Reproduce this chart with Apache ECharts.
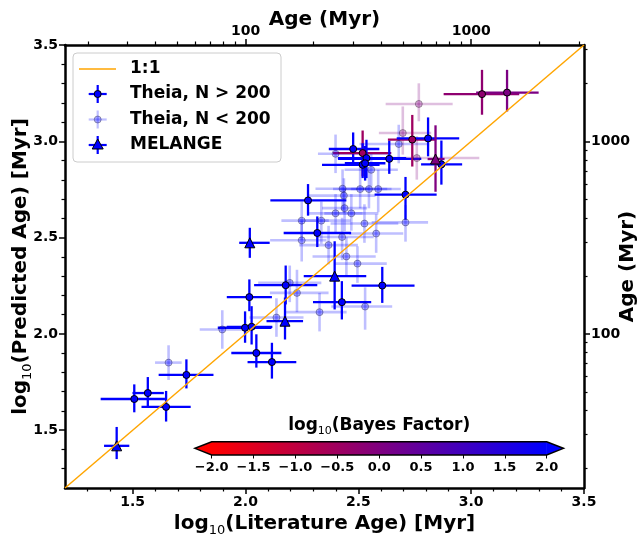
<!DOCTYPE html>
<html><head><meta charset="utf-8">
<script src="https://cdn.jsdelivr.net/npm/echarts@6/dist/echarts.min.js"></script>
<style>html,body{margin:0;padding:0;background:#fff}#c{width:641px;height:536px}</style>
</head><body><div id="c"></div>
<script>
// ---------- axis ticks ----------
const axisMin = 1.2, axisMax = 3.5;
const majorTicks = [1.5, 2.0, 2.5, 3.0, 3.5];
const minorTicks = [1.3,1.4,1.6,1.7,1.8,1.9,2.1,2.2,2.3,2.4,2.6,2.7,2.8,2.9,3.1,3.2,3.3,3.4];
const ageMajorTicks = [100, 1000];
const ageMinorTicks = [20,30,40,50,60,70,80,90,200,300,400,500,600,700,800,900,2000,3000];
const cbarMin = -2, cbarMax = 2;
const cbarTicks = [-2,-1.5,-1,-0.5,0,0.5,1,1.5,2];
const cmapStops = [[255,0,0],[0,0,255]];
const oneToOne = [1.2, 3.5];
const legendLabels = ['1:1', 'Theia, N > 200', 'Theia, N < 200', 'MELANGE'];

// ---------- Theia, N > 200 ----------
const theiaLit = [1.507,1.567,1.648,1.738,2.048,2.117,1.998,2.027,2.017,2.178,2.606,2.427,2.318,2.277,2.477,2.519,2.536,2.519,2.530,2.637,2.739,2.809,2.868,2.709,3.048,3.159];
const theiaLitErr = [[0.149,0.136],[0.068,0.071],[0.109,0.109],[0.123,0.120],[0.111,0.111],[0.108,0.108],[0.121,0.117],[0.110,0.092],[0.100,0.100],[0.140,0.140],[0.136,0.143],[0.128,0.130],[0.149,0.150],[0.167,0.170],[0.108,0.116],[0.131,0.127],[0.127,0.176],[0.180,0.075],[0.090,0.090],[0.227,0.142],[0.108,0.106],[0.139,0.138],[0.090,0.092],[0.137,0.138],[0.170,0.165],[0.137,0.140]];
const theiaPred = [1.662,1.693,1.621,1.787,1.901,1.854,2.032,2.037,2.191,2.253,2.251,2.165,2.524,2.693,2.960,2.939,2.913,2.878,2.886,2.909,3.009,3.015,2.880,2.723,3.245,3.253];
const theiaPredErr = [[0.069,0.076],[0.070,0.083],[0.076,0.083],[0.070,0.081],[0.076,0.097],[0.086,0.100],[0.078,0.085],[0.092,0.107],[0.073,0.092],[0.100,0.102],[0.090,0.097],[0.090,0.109],[0.073,0.086],[0.079,0.085],[0.078,0.086],[0.121,0.117],[0.104,0.095],[0.069,0.112],[0.090,0.090],[0.078,0.095],[0.140,0.128],[0.093,0.109],[0.105,0.124],[0.130,0.092],[0.107,0.126],[0.098,0.118]];
const theiaBF = [2,2,2,2,2,2,2,2,2,2,2,2,2,2,2,-0.5,2,2,2,2,-0.5,2,2,2,-0.25,0.05];

// ---------- Theia, N < 200 ----------
const smallLit = [2.768,2.697,2.679,2.759,2.557,2.399,2.430,2.508,2.547,2.588,2.436,2.439,2.399,2.469,2.249,2.336,2.527,2.709,2.249,2.368,2.428,2.579,2.447,2.496,2.196,2.228,2.328,2.530,2.137,1.897,1.659];
const smallLitErr = [[0.147,0.150],[0.106,0.126],[0.174,0.135],[0.106,0.277],[0.118,0.118],[0.078,0.240],[0.12,0.12],[0.12,0.12],[0.13,0.10],[0.12,0.10],[0.16,0.14],[0.10,0.10],[0.12,0.12],[0.12,0.12],[0.09,0.12],[0.10,0.13],[0.15,0.15],[0.15,0.10],[0.14,0.11],[0.13,0.13],[0.11,0.14],[0.12,0.12],[0.15,0.13],[0.10,0.13],[0.14,0.14],[0.12,0.14],[0.15,0.12],[0.15,0.12],[0.12,0.12],[0.10,0.10],[0.06,0.058]];
const smallPred = [3.194,3.043,2.986,2.913,2.852,2.935,2.754,2.752,2.752,2.752,2.718,2.653,2.626,2.626,2.588,2.588,2.573,2.579,2.486,2.461,2.503,2.521,2.402,2.365,2.265,2.213,2.113,2.142,2.085,2.023,1.851];
const smallPredErr = [[0.09,0.107],[0.112,0.138],[0.10,0.10],[0.112,0.113],[0.086,0.088],[0.10,0.10],[0.11,0.10],[0.10,0.12],[0.10,0.10],[0.12,0.10],[0.09,0.09],[0.12,0.10],[0.10,0.10],[0.09,0.10],[0.10,0.10],[0.12,0.10],[0.10,0.10],[0.10,0.09],[0.11,0.10],[0.10,0.10],[0.12,0.10],[0.10,0.10],[0.10,0.10],[0.10,0.09],[0.10,0.09],[0.10,0.12],[0.10,0.10],[0.12,0.10],[0.10,0.10],[0.10,0.10],[0.09,0.09]];
const smallBF = [0,0,2,0,2,2,2,2,2,2,2,2,2,2,2,2,2,2,2,2,2,2,2,2,2,2,2,2,2,2,2];

// ---------- MELANGE ----------
const melLit = [1.429,2.019,2.395,2.175,2.842];
const melLitErr = [[0.056,0.056],[0.047,0.088],[0.137,0.140],[0.082,0.080],[0.035,0.040]];
const melPred = [1.419,2.473,2.300,2.066,2.908];
const melPredErr = [[0.069,0.098],[0.078,0.078],[0.173,0.181],[0.095,0.123],[0.170,0.175]];
const melBF = [2,2,2,2,0];

// ---------- helpers ----------
const FONT = 'DejaVu Sans';
function bfColor(b) {
  let t = (b - cbarMin) / (cbarMax - cbarMin);
  t = Math.max(0, Math.min(1, t));
  const c = cmapStops[0].map((v, i) => Math.round(v + (cmapStops[1][i] - v) * t));
  return 'rgb(' + c.join(',') + ')';
}
function rows(lit, litErr, pred, predErr, bf) {
  return lit.map((x, i) => [x, pred[i], litErr[i][0], litErr[i][1], predErr[i][0], predErr[i][1], bf[i]]);
}
const theiaRows = rows(theiaLit, theiaLitErr, theiaPred, theiaPredErr, theiaBF);
const smallRows = rows(smallLit, smallLitErr, smallPred, smallPredErr, smallBF);
const melRows = rows(melLit, melLitErr, melPred, melPredErr, melBF);

function errSeries(data, lw, op) {
  return {
    type: 'custom', xAxisIndex: 0, yAxisIndex: 0, data: data, clip: true,
    encode: { x: 0, y: 1 },
    renderItem: function (params, api) {
      const x = api.value(0), y = api.value(1);
      const p1 = api.coord([x - api.value(2), y]), p2 = api.coord([x + api.value(3), y]);
      const p3 = api.coord([x, y - api.value(4)]), p4 = api.coord([x, y + api.value(5)]);
      const st = { stroke: bfColor(api.value(6)), lineWidth: lw, opacity: op };
      return { type: 'group', children: [
        { type: 'line', shape: { x1: p1[0], y1: p1[1], x2: p2[0], y2: p2[1] }, style: st },
        { type: 'line', shape: { x1: p3[0], y1: p3[1], x2: p4[0], y2: p4[1] }, style: st }
      ]};
    }
  };
}
function markSeries(data, symbol, size, op, border) {
  return {
    type: 'scatter', xAxisIndex: 0, yAxisIndex: 0, symbol: symbol, symbolSize: size,
    data: data.map(r => [r[0], r[1], r[6]]),
    itemStyle: { color: p => bfColor(p.value[2]), borderColor: border, borderWidth: 1, opacity: op }
  };
}

const nameRich = {
  n: { fontFamily: FONT, fontSize: 20, fontWeight: 'bold', color: '#000', lineHeight: 26 },
  s: { fontFamily: FONT, fontSize: 13, fontWeight: 'normal', color: '#000', lineHeight: 13, verticalAlign: 'bottom' }
};
const lblStyle = { fontFamily: FONT, fontSize: 14, fontWeight: 'bold', color: '#000' };
const blackLine = { show: true, lineStyle: { color: '#000', width: 2.5 } };
const noLine = { show: false };
const log10 = v => Math.log10(v);

function majorAxis(pos, extra) {
  return Object.assign({
    type: 'value', gridIndex: 0, position: pos, min: axisMin, max: axisMax,
    axisLine: blackLine, splitLine: { show: false },
    axisTick: { show: true, inside: false, length: 6, customValues: majorTicks, lineStyle: { color: '#000', width: 1.5 } },
    axisLabel: Object.assign({ customValues: majorTicks, margin: 7, formatter: v => v.toFixed(1) }, lblStyle)
  }, extra || {});
}
function minorAxis(pos, vals) {
  return {
    type: 'value', gridIndex: 0, position: pos, min: axisMin, max: axisMax,
    axisLine: noLine, splitLine: { show: false },
    axisTick: { show: true, inside: false, length: 3.5, customValues: vals, lineStyle: { color: '#000', width: 1.2 } },
    axisLabel: { show: false }
  };
}
function ageAxis(pos, extra) {
  const vals = ageMajorTicks.map(log10);
  return Object.assign({
    type: 'value', gridIndex: 0, position: pos, min: axisMin, max: axisMax,
    axisLine: blackLine, splitLine: { show: false },
    axisTick: { show: true, inside: false, length: 6, customValues: vals, lineStyle: { color: '#000', width: 1.5 } },
    axisLabel: Object.assign({ customValues: vals, margin: 7,
      formatter: v => String(ageMajorTicks[vals.findIndex(t => Math.abs(t - v) < 1e-6)]) }, lblStyle)
  }, extra || {});
}

const chart = echarts.init(document.getElementById('c'), null, { renderer: 'canvas' });

// legend graphic
const LX = 97.7, rowsY = [69, 94, 119.5, 145];
function crossIcon(y, color, op) {
  return [
    { type: 'line', shape: { x1: LX - 9, y1: y, x2: LX + 9, y2: y }, style: { stroke: color, lineWidth: 2.2, opacity: op } },
    { type: 'line', shape: { x1: LX, y1: y - 9, x2: LX, y2: y + 9 }, style: { stroke: color, lineWidth: 2.2, opacity: op } }
  ];
}
const legendChildren = [
  { type: 'rect', shape: { x: 73, y: 53, width: 208, height: 109, r: 4 }, style: { fill: 'rgba(255,255,255,0.8)', stroke: '#cccccc', lineWidth: 1 } },
  { type: 'line', shape: { x1: 79, y1: rowsY[0], x2: 116, y2: rowsY[0] }, style: { stroke: '#ffa500', lineWidth: 1.5 } },
  ...crossIcon(rowsY[1], bfColor(2), 1),
  { type: 'circle', shape: { cx: LX, cy: rowsY[1], r: 3.5 }, style: { fill: bfColor(2), stroke: '#000', lineWidth: 1 } },
  ...crossIcon(rowsY[2], bfColor(2), 0.25),
  { type: 'circle', shape: { cx: LX, cy: rowsY[2], r: 3.5 }, style: { fill: bfColor(2), stroke: '#000', lineWidth: 1, opacity: 0.3 } },
  ...crossIcon(rowsY[3], bfColor(2), 1),
  { type: 'polygon', shape: { points: [[LX, rowsY[3] - 6], [LX + 5.5, rowsY[3] + 4], [LX - 5.5, rowsY[3] + 4]] }, style: { fill: bfColor(2), stroke: '#000', lineWidth: 1 } }
];
legendLabels.forEach((t, i) => legendChildren.push({
  type: 'text', x: 130, y: rowsY[i], style: { text: t, fontFamily: FONT, fontSize: 17, fontWeight: 'bold', fill: '#000', verticalAlign: 'middle', align: 'left' }
}));

const option = {
  animation: false,
  backgroundColor: '#fff',
  grid: [
    { left: 65, right: 57, top: 45, bottom: 48, containLabel: false, outerBoundsMode: 'none' },
    { left: 211.7, width: 335, top: 441.7, height: 13.3, containLabel: false, outerBoundsMode: 'none' }
  ],
  xAxis: [
    majorAxis('bottom', { name: '{n|log}{s|10}{n|(Literature Age) [Myr]}', nameLocation: 'middle', nameGap: 22, nameTextStyle: { rich: nameRich } }),
    minorAxis('bottom', minorTicks),
    ageAxis('top', { name: 'Age (Myr)', nameLocation: 'middle', nameGap: 15, nameMoveOverlap: false, nameTextStyle: { fontFamily: FONT, fontSize: 20, fontWeight: 'bold', color: '#000' } }),
    minorAxis('top', ageMinorTicks.map(log10)),
    { type: 'value', gridIndex: 1, position: 'bottom', min: cbarMin, max: cbarMax, interval: 0.5,
      axisLine: noLine, splitLine: { show: false },
      axisTick: { show: true, inside: false, length: 3.5, customValues: cbarTicks, lineStyle: { color: '#000', width: 1 } },
      axisLabel: { customValues: cbarTicks, margin: 6, fontFamily: FONT, fontSize: 13, fontWeight: 'bold', color: '#000',
        formatter: v => v.toFixed(1).replace('-', '\u2212') } },
    { type: 'value', gridIndex: 1, position: 'top', min: cbarMin, max: cbarMax,
      axisLine: noLine, axisTick: { show: false }, axisLabel: { show: false }, splitLine: { show: false },
      name: '{n|log}{s|10}{n|(Bayes Factor)}', nameLocation: 'middle', nameGap: 5,
      nameTextStyle: { rich: {
        n: { fontFamily: FONT, fontSize: 17, fontWeight: 'bold', color: '#000', lineHeight: 22 },
        s: { fontFamily: FONT, fontSize: 11, fontWeight: 'normal', color: '#000', lineHeight: 11, verticalAlign: 'bottom' } } } }
  ],
  yAxis: [
    majorAxis('left', { name: '{n|log}{s|10}{n|(Predicted Age) [Myr]}', nameLocation: 'middle', nameGap: 31, nameMoveOverlap: false, nameTextStyle: { rich: nameRich } }),
    minorAxis('left', minorTicks),
    ageAxis('right', { name: 'Age (Myr)', nameLocation: 'middle', nameGap: 34, nameMoveOverlap: false, nameTextStyle: { fontFamily: FONT, fontSize: 20, fontWeight: 'bold', color: '#000' } }),
    minorAxis('right', ageMinorTicks.map(log10)),
    { type: 'value', gridIndex: 1, min: 0, max: 1, show: false }
  ],
  series: [
    { type: 'line', xAxisIndex: 0, yAxisIndex: 0, data: [[oneToOne[0], oneToOne[0]], [oneToOne[1], oneToOne[1]]],
      symbol: 'none', lineStyle: { color: '#ffa500', width: 1.5 }, silent: true },
    errSeries(smallRows, 2.6, 0.25),
    markSeries(smallRows, 'circle', 7, 0.3, '#000'),
    errSeries(theiaRows, 2.3, 1),
    markSeries(theiaRows, 'circle', 7, 1, '#000'),
    errSeries(melRows, 2.3, 1),
    markSeries(melRows, 'triangle', 10, 1, '#000'),
    { type: 'custom', xAxisIndex: 4, yAxisIndex: 4, clip: false, z: 10, data: [[cbarMin, cbarMax]],
      renderItem: function (params, api) {
        const a = api.coord([api.value(0), 0]), b = api.coord([api.value(1), 1]);
        const x0 = a[0], x1 = b[0], yb = a[1], yt = b[1];
        const ext = (x1 - x0) * 0.05, ym = (yb + yt) / 2;
        const grad = new echarts.graphic.LinearGradient(0, 0, 1, 0, [
          { offset: 0, color: bfColor(cbarMin) }, { offset: 1, color: bfColor(cbarMax) }]);
        return { type: 'group', children: [
          { type: 'polygon', shape: { points: [[x0 + 0.5, yt], [x0 - ext, ym], [x0 + 0.5, yb]] }, style: { fill: bfColor(cbarMin - 1) } },
          { type: 'rect', shape: { x: x0, y: yt, width: x1 - x0, height: yb - yt }, style: { fill: grad } },
          { type: 'polygon', shape: { points: [[x1 - 0.5, yt], [x1 + ext, ym], [x1 - 0.5, yb]] }, style: { fill: bfColor(cbarMax + 1) } },
          { type: 'polygon', shape: { points: [[x0, yt], [x1, yt], [x1 + ext, ym], [x1, yb], [x0, yb], [x0 - ext, ym]] },
            style: { fill: 'none', stroke: '#000', lineWidth: 1.5 } }
        ]};
      }
    }
  ],
  graphic: [{ type: 'group', z: 100, children: legendChildren }]
};
chart.setOption(option);
</script></body></html>
